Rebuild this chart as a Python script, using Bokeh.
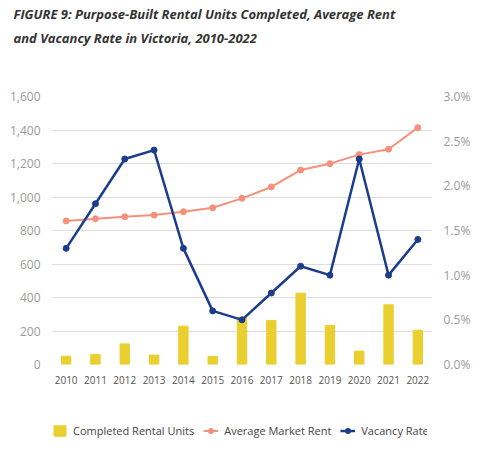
from bokeh.plotting import figure
from bokeh.layouts import column
from bokeh.models import (Range1d, FactorRange, LinearAxis, NumeralTickFormatter,
                          PrintfTickFormatter, Legend, LegendItem, Title, SingleIntervalTicker)
from bokeh.embed import file_html
from bokeh.resources import INLINE

years = [str(y) for y in range(2010, 2023)]
units = [50, 60, 123, 56, 229, 48, 282, 263, 426, 233, 80, 356, 205]
rent = [857, 870, 882, 892, 912, 936, 992, 1060, 1161, 1199, 1253, 1285, 1414]
vacancy = [1.3, 1.8, 2.3, 2.4, 1.3, 0.6, 0.5, 0.8, 1.1, 1.0, 2.3, 1.0, 1.4]

title_line1 = "FIGURE 9: Purpose-Built Rental Units Completed, Average Rent"
title_line2 = "and Vacancy Rate in Victoria, 2010-2022"
legend_labels = ["Completed Rental Units", "Average Market Rent", "Vacancy Rates"]

BAR = "#E9CF2F"
RENT = "#F4917B"
NAVY = "#1C3C8C"
FONT = "Open Sans"

p = figure(x_range=FactorRange(*years), y_range=Range1d(0, 1600),
           frame_width=381, frame_height=268, width=468, height=386,
           min_border_left=51, min_border_right=36, min_border_top=0, min_border_bottom=30,
           output_backend="svg", toolbar_location=None, outline_line_color=None)
p.x_range.range_padding = 0
p.extra_y_ranges = {"vac": Range1d(0, 3.0)}

p.vbar(x=years, top=units, width=0.32, color=BAR)
p.line(years, rent, color=RENT, line_width=2)
p.scatter(years, rent, color=RENT, size=6)
p.line(years, vacancy, color=NAVY, line_width=2.5, y_range_name="vac")
p.scatter(years, vacancy, color=NAVY, size=6, y_range_name="vac")

# axes
p.yaxis.ticker = SingleIntervalTicker(interval=200)
p.yaxis.formatter = NumeralTickFormatter(format="0,0")
right = LinearAxis(y_range_name="vac", ticker=SingleIntervalTicker(interval=0.5),
                   formatter=PrintfTickFormatter(format="%.1f%%"))
p.add_layout(right, "right")
for ax in (p.yaxis[0], right):
    ax.axis_line_color = None
    ax.major_tick_line_color = None
    ax.minor_tick_line_color = None
    ax.major_label_text_font = FONT
    ax.major_label_text_font_size = "12px"
    ax.major_label_text_color = "#9a9a9a"
    ax.major_label_standoff = 5
xa = p.xaxis[0]
xa.axis_line_color = None
xa.major_tick_line_color = None
xa.major_label_text_font = FONT
xa.major_label_text_font_size = "10px"
xa.major_label_text_color = "#555555"
xa.major_label_standoff = 5

p.xgrid.grid_line_color = None
p.ygrid.grid_line_color = "#dddddd"
p.ygrid.grid_line_width = 1

spacer = Title(text=" ", text_font_size="41px", standoff=0)
t2 = Title(text=title_line2, text_font=FONT, text_font_style="bold italic",
           text_font_size="13px", text_color="#333333", align="left", offset=-38, standoff=4)
t1 = Title(text=title_line1, text_font=FONT, text_font_style="bold italic",
           text_font_size="13px", text_color="#333333", align="left", offset=-38, standoff=4)
p.add_layout(spacer, "above")
p.add_layout(t2, "above")
p.add_layout(t1, "above")
p.title.text = ""

# legend strip below the chart; its series sit outside the visible range
lg = figure(width=468, height=56, x_range=FactorRange(*years), y_range=Range1d(5000, 6000),
            min_border_left=51, min_border_right=36, min_border_top=0, min_border_bottom=0,
            output_backend="svg", toolbar_location=None, outline_line_color=None)
lg.x_range.range_padding = 0
lg.axis.visible = False
lg.grid.visible = False
kb = lg.vbar(x=years, top=units, width=0.32, color=BAR)
kl = lg.line(years, rent, color=RENT, line_width=2)
kc = lg.scatter(years, rent, color=RENT, size=6)
ql = lg.line(years, vacancy, color=NAVY, line_width=2.5)
qc = lg.scatter(years, vacancy, color=NAVY, size=6)
legend = Legend(items=[LegendItem(label=legend_labels[0], renderers=[kb]),
                       LegendItem(label=legend_labels[1], renderers=[kl, kc]),
                       LegendItem(label=legend_labels[2], renderers=[ql, qc])],
                orientation="horizontal", location=(1, 12),
                label_text_font=FONT, label_text_font_size="11px", label_text_color="#444444",
                glyph_width=15, glyph_height=13, label_standoff=6, spacing=9,
                border_line_color=None, background_fill_alpha=0, padding=0, margin=0)
lg.add_layout(legend, "center")

open("out.html", "w").write(file_html(column(p, lg), INLINE))
